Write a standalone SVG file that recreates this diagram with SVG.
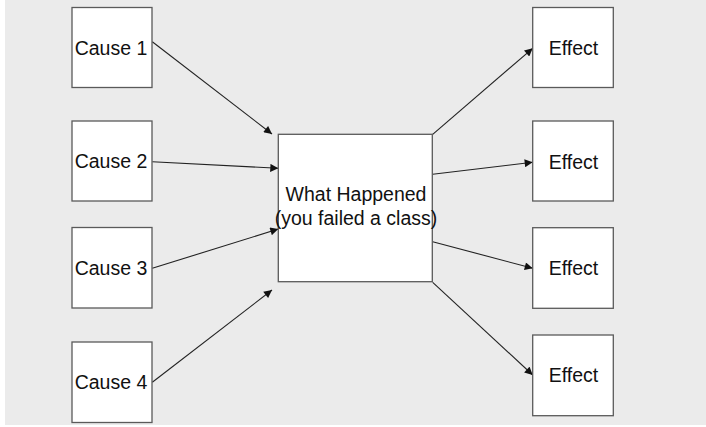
<svg xmlns="http://www.w3.org/2000/svg" width="706" height="427" viewBox="0 0 706 427">
<style>
.box{fill:#ffffff;stroke:#5a5a5a;stroke-width:1.3}
.lbl{font-family:"Liberation Sans",Arial,sans-serif;font-size:19.5px;fill:#111;text-anchor:middle}
.con{stroke:#222;stroke-width:1.1;fill:none;marker-end:url(#ah)}
</style>
<defs>
<marker id="ah" viewBox="0 0 10 10" refX="10" refY="5" markerWidth="9" markerHeight="8" markerUnits="userSpaceOnUse" orient="auto">
<path d="M0,0 L10,5 L0,10 z" fill="#111"/>
</marker>
</defs>
<rect x="0" y="0" width="706" height="427" fill="#ffffff"/>
<rect x="5" y="0" width="701" height="425" fill="#ebebeb"/>
<g id="connectors">
<line class="con" x1="152.3" y1="41.7" x2="272" y2="134"/>
<line class="con" x1="152.3" y1="161.7" x2="278.3" y2="168.3"/>
<line class="con" x1="152.3" y1="268.3" x2="278.3" y2="229"/>
<line class="con" x1="152.3" y1="382.3" x2="272" y2="290"/>
<line class="con" x1="432.7" y1="134.3" x2="532.7" y2="48.3"/>
<line class="con" x1="432.7" y1="174.3" x2="532.7" y2="162.3"/>
<line class="con" x1="432.7" y1="241.7" x2="532.7" y2="268.3"/>
<line class="con" x1="432.7" y1="282.3" x2="532.7" y2="375"/>
</g>
<g id="cause1"><rect class="box" x="72" y="7.5" width="80" height="80"/><text class="lbl" x="111" y="54.5">Cause 1</text></g>
<g id="cause2"><rect class="box" x="72" y="121" width="80" height="80"/><text class="lbl" x="111" y="168">Cause 2</text></g>
<g id="cause3"><rect class="box" x="72" y="227.5" width="80" height="80.5"/><text class="lbl" x="111" y="275">Cause 3</text></g>
<g id="cause4"><rect class="box" x="72" y="342" width="80" height="80.5"/><text class="lbl" x="111" y="389">Cause 4</text></g>
<g id="center"><rect class="box" x="278.3" y="134.3" width="154" height="147.4"/><text class="lbl" x="356" y="201">What Happened</text><text class="lbl" x="356" y="224.5">(you failed a class)</text></g>
<g id="effect1"><rect class="box" x="532.7" y="7.5" width="80.6" height="80"/><text class="lbl" x="573.5" y="55">Effect</text></g>
<g id="effect2"><rect class="box" x="532.7" y="121" width="80.6" height="80"/><text class="lbl" x="573.5" y="168.5">Effect</text></g>
<g id="effect3"><rect class="box" x="532.7" y="227.7" width="80.6" height="80.6"/><text class="lbl" x="573.5" y="275">Effect</text></g>
<g id="effect4"><rect class="box" x="532.7" y="335" width="80.6" height="80.7"/><text class="lbl" x="573.5" y="382">Effect</text></g>
</svg>
